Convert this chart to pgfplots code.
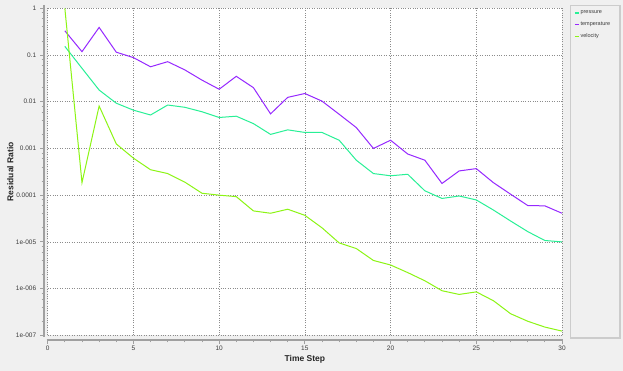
\documentclass[border=0pt]{standalone}
\usepackage{fontspec}
\setmainfont{Liberation Sans}
\usepackage{pgfplots}
\pgfplotsset{compat=1.18}
\definecolor{bgc}{RGB}{240,240,240}
\definecolor{pcol}{RGB}{40,240,150}
\definecolor{tcol}{RGB}{150,40,255}
\definecolor{vcol}{RGB}{140,245,20}
\definecolor{spine}{RGB}{160,160,160}
\definecolor{gridc}{RGB}{140,140,140}
\definecolor{txt}{RGB}{60,60,60}
\begin{document}
\begin{tikzpicture}
\useasboundingbox (0,0) rectangle (623pt,371pt);
\fill[bgc] (0,0) rectangle (623pt,371pt);
% legend box
\draw[fill=bgc, draw=gray!40, line width=1.2pt] (570.5pt,365.5pt) rectangle (620pt,33pt);
\begin{axis}[
  at={(47.7pt,35.7pt)}, anchor=south west,
  scale only axis, width=514.3pt, height=327pt,
  xmin=0, xmax=30, ymin=1e-7, ymax=1,
  ymode=log,
  axis background/.style={fill=white},
  axis line style={draw=none},
  xtick={0,5,...,30}, minor x tick num=4,
  ytick={1e-7,1e-6,1e-5,1e-4,1e-3,1e-2,1e-1,1},
  yticklabels={1e-007,1e-006,1e-005,0.0001,0.001,0.01,0.1,1},
  minor ytick={2e-7,4e-7,6e-7,8e-7,2e-6,4e-6,6e-6,8e-6,2e-5,4e-5,6e-5,8e-5,2e-4,4e-4,6e-4,8e-4,2e-3,4e-3,6e-3,8e-3,2e-2,4e-2,6e-2,8e-2,0.2,0.4,0.6,0.8},
  xtick pos=bottom, ytick pos=left,
  tick align=outside,
  major tick length=4pt, minor tick length=2.5pt,
  tick style={spine, line width=0.8pt},
  xtick style={yshift=-4.5pt},
  ytick style={xshift=-3.5pt},
  xmajorgrids, ymajorgrids,
  major grid style={gridc, dash pattern=on 1pt off 1.4pt, line width=0.7pt},
  /pgf/number format/assume math mode=true,
  ticklabel style={font=\fontsize{6.5}{7}\selectfont, text=txt},
  yticklabel style={xshift=-4pt},
  xticklabel style={yshift=-3pt},
  xlabel={Time Step}, ylabel={Residual Ratio},
  label style={font=\fontsize{8.5}{10}\selectfont\bfseries, text=black!85},
  xlabel style={at={(axis description cs:0.5,-0.0734)}, anchor=center},
  ylabel style={at={(axis description cs:-0.0727,0.5)}, anchor=center},
  legend style={at={(rel axis cs:1.021,0.999)}, anchor=north west, draw=none, fill=none,
    font=\fontsize{5.5}{6.5}\selectfont, text=txt, row sep=4.8pt, inner sep=1pt,
    nodes={inner sep=1pt}},
  legend cell align=left,
  legend image code/.code={\draw[#1, line width=1.6pt] (0pt,0pt) -- (4pt,0pt);},
  every axis plot/.append style={line width=1pt},
]
\addplot[pcol] coordinates {
(1,0.153) (2,0.052) (3,0.0178) (4,0.0093) (5,0.0066) (6,0.0052) (7,0.0085) (8,0.0076) (9,0.0061) (10,0.0046)
(11,0.0049) (12,0.0034) (13,0.0020) (14,0.0025) (15,0.0022) (16,0.0022) (17,0.0015) (18,0.00056) (19,0.00029) (20,0.00026)
(21,0.00028) (22,0.000124) (23,8.5e-5) (24,9.6e-5) (25,7.9e-5) (26,4.8e-5) (27,2.8e-5) (28,1.66e-5) (29,1.07e-5) (30,1.0e-5)};
\addlegendentry{pressure}
\addplot[tcol] coordinates {
(1,0.33) (2,0.118) (3,0.39) (4,0.115) (5,0.088) (6,0.056) (7,0.072) (8,0.048) (9,0.029) (10,0.0185)
(11,0.035) (12,0.020) (13,0.0055) (14,0.0124) (15,0.015) (16,0.0103) (17,0.0054) (18,0.0028) (19,0.0010) (20,0.0015)
(21,0.00076) (22,0.00056) (23,0.000178) (24,0.00033) (25,0.00037) (26,0.000185) (27,0.000105) (28,6.0e-5) (29,5.9e-5) (30,4.1e-5)};
\addlegendentry{temperature}
\addplot[vcol] coordinates {
(1,1.0) (2,1.85e-4) (3,0.0081) (4,0.00125) (5,0.00062) (6,0.00035) (7,0.00029) (8,1.9e-4) (9,1.1e-4) (10,1.0e-4)
(11,9.3e-5) (12,4.6e-5) (13,4.1e-5) (14,5.0e-5) (15,3.7e-5) (16,2.0e-5) (17,9.5e-6) (18,7.2e-6) (19,4.0e-6) (20,3.2e-6)
(21,2.2e-6) (22,1.47e-6) (23,9.0e-7) (24,7.5e-7) (25,8.5e-7) (26,5.5e-7) (27,2.9e-7) (28,2.0e-7) (29,1.5e-7) (30,1.23e-7)};
\addlegendentry{velocity}
\end{axis}
% spines
\draw[spine, line width=2pt] (44.3pt,366pt) -- (44.3pt,34.3pt);
\draw[spine, line width=2pt] (46.7pt,31pt) -- (563pt,31pt);
\end{tikzpicture}
\end{document}
